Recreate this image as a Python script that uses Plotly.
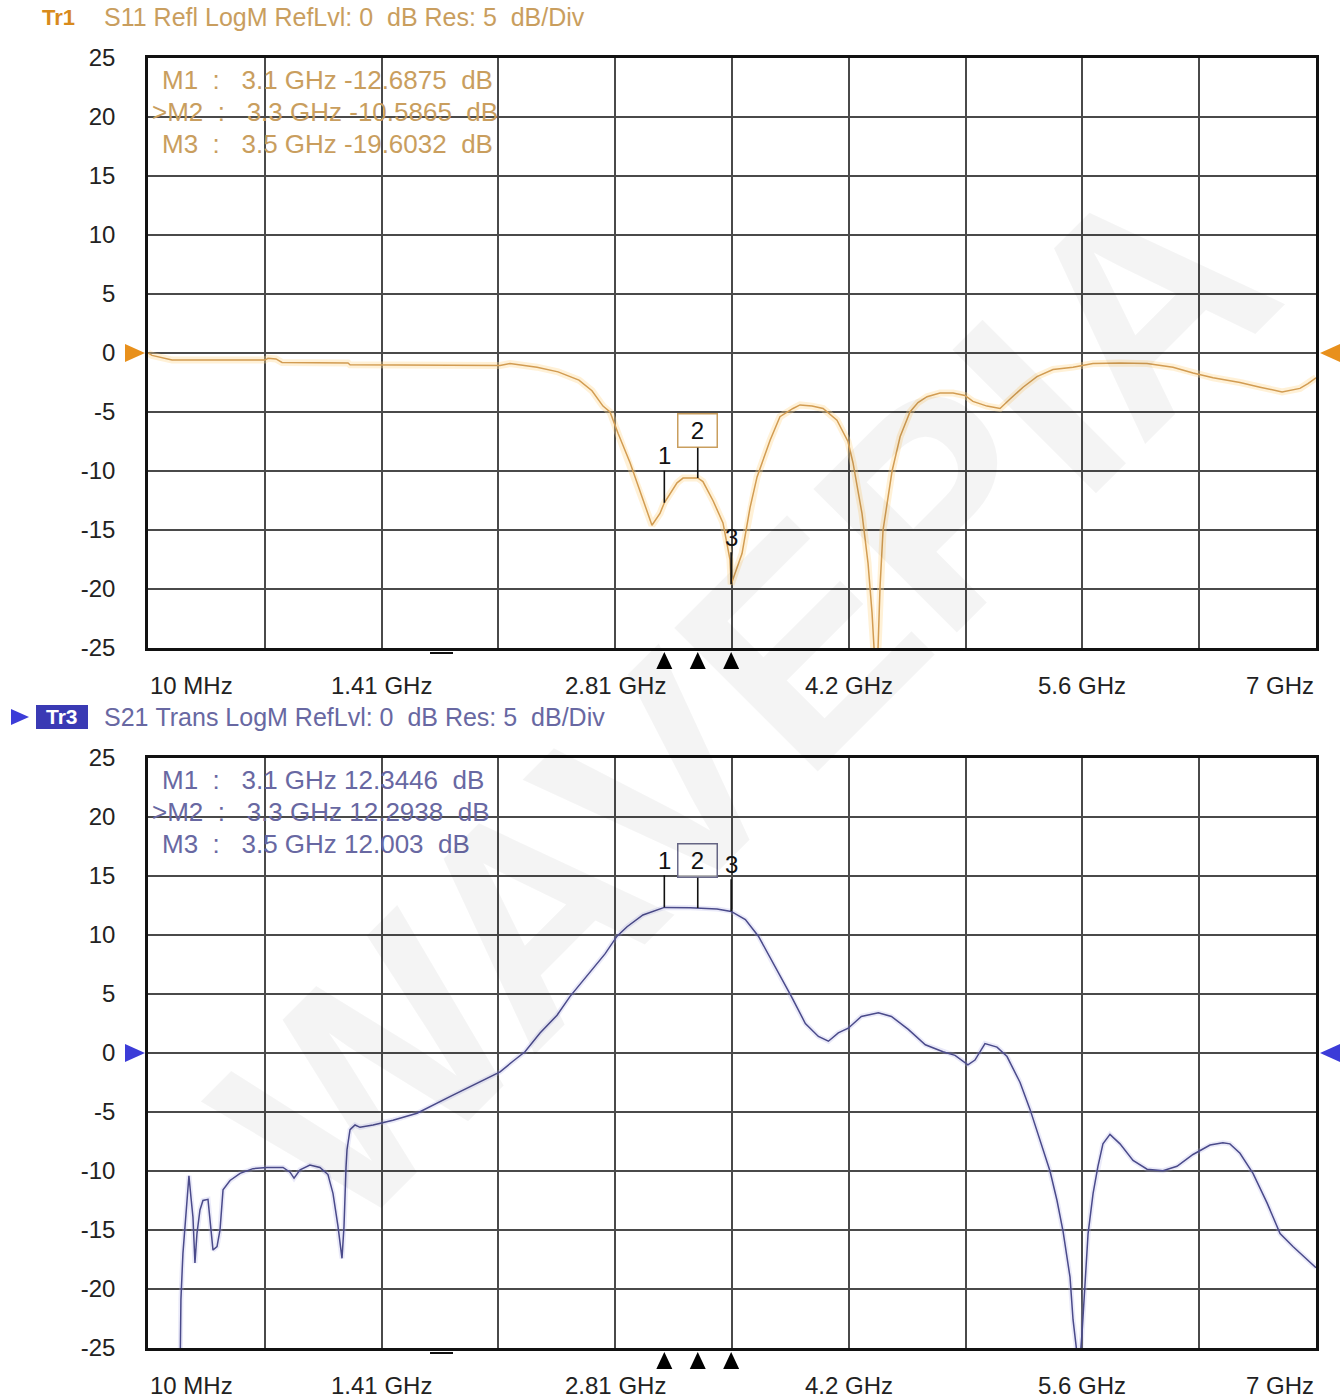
import plotly.graph_objects as go

# ---------------- data ----------------
s11_freq_ghz = [0.010, 0.034, 0.154, 0.710, 0.728, 0.776, 0.812, 1.207, 1.219, 2.045,
                2.117, 2.176, 2.338, 2.464, 2.589, 2.667, 2.733, 2.775, 2.823, 2.895,
                2.972, 3.026, 3.074, 3.100, 3.176, 3.212, 3.300, 3.331, 3.391, 3.451,
                3.493, 3.500, 3.565, 3.613, 3.655, 3.733, 3.792, 3.870, 3.912, 3.984,
                4.050, 4.133, 4.199, 4.229, 4.283, 4.319, 4.343, 4.355, 4.367, 4.379,
                4.391, 4.409, 4.463, 4.511, 4.570, 4.618, 4.672, 4.750, 4.828, 4.899,
                4.947, 5.031, 5.109, 5.169, 5.247, 5.330, 5.426, 5.546, 5.665, 5.827,
                5.989, 6.144, 6.264, 6.384, 6.545, 6.665, 6.797, 6.904, 6.952, 7.000]
s11_db = [0.0, -0.2, -0.6, -0.6, -0.45, -0.5, -0.8, -0.85, -1.0, -1.0,
          -1.05, -0.9, -1.2, -1.6, -2.3, -3.2, -4.5, -5.0, -6.8, -9.3,
          -12.5, -14.6, -13.6, -12.69, -11.0, -10.6, -10.59, -10.9, -12.5, -14.4,
          -17.5, -19.6, -17.0, -13.1, -10.5, -7.4, -5.4, -4.7, -4.4, -4.5,
          -4.7, -5.7, -7.5, -9.3, -13.6, -17.8, -22.0, -26.0, -28.0, -25.0,
          -19.8, -15.0, -10.0, -7.1, -5.0, -4.2, -3.7, -3.4, -3.4, -3.6,
          -4.1, -4.5, -4.7, -3.9, -2.9, -2.0, -1.4, -1.2, -0.9, -0.85,
          -0.9, -1.2, -1.7, -2.1, -2.5, -2.9, -3.3, -3.0, -2.6, -2.1]

s21_freq_ghz = [0.196, 0.207, 0.219, 0.231, 0.243, 0.255, 0.267, 0.279, 0.291, 0.303,
                0.321, 0.339, 0.369, 0.381, 0.399, 0.423, 0.441, 0.459, 0.501, 0.561,
                0.638, 0.722, 0.818, 0.860, 0.884, 0.920, 0.979, 1.039, 1.087, 1.117,
                1.147, 1.171, 1.183, 1.195, 1.201, 1.219, 1.249, 1.279, 1.357, 1.476,
                1.620, 1.817, 1.979, 2.117, 2.194, 2.266, 2.356, 2.458, 2.536, 2.637,
                2.745, 2.817, 2.877, 2.972, 3.100, 3.256, 3.300, 3.415, 3.500, 3.585,
                3.663, 3.764, 3.860, 3.944, 4.022, 4.082, 4.141, 4.201, 4.279, 4.381,
                4.459, 4.560, 4.662, 4.768, 4.840, 4.917, 4.959, 5.019, 5.091, 5.151,
                5.229, 5.289, 5.348, 5.408, 5.450, 5.486, 5.528, 5.546, 5.570, 5.582,
                5.600, 5.618, 5.636, 5.666, 5.695, 5.725, 5.767, 5.827, 5.905, 5.989,
                6.084, 6.168, 6.264, 6.366, 6.443, 6.485, 6.545, 6.623, 6.707, 6.785,
                6.862, 7.000]
s21_db = [-35.0, -20.9, -17.0, -14.6, -12.5, -10.4, -12.2, -13.9, -17.8, -15.3,
          -13.3, -12.5, -12.4, -14.2, -16.7, -16.4, -15.0, -11.6, -10.8, -10.2,
          -9.8, -9.7, -9.7, -10.1, -10.6, -9.9, -9.5, -9.7, -10.3, -11.9,
          -14.7, -17.4, -14.7, -9.7, -8.2, -6.5, -6.1, -6.3, -6.1, -5.7,
          -5.1, -3.7, -2.6, -1.6, -0.7, 0.1, 1.7, 3.2, 4.8, 6.5,
          8.4, 9.9, 10.7, 11.7, 12.34, 12.3, 12.29, 12.2, 12.0, 11.3,
          9.9, 7.3, 4.8, 2.5, 1.4, 1.0, 1.7, 2.1, 3.1, 3.4,
          3.1, 2.0, 0.7, 0.1, -0.2, -1.0, -0.6, 0.8, 0.5, -0.3,
          -2.5, -4.8, -7.3, -10.0, -12.5, -15.1, -19.0, -22.6, -25.5, -27.0,
          -23.7, -19.3, -15.3, -11.9, -9.6, -7.7, -6.9, -7.7, -9.1, -9.85,
          -9.97, -9.6, -8.6, -7.8, -7.6, -7.7, -8.5, -10.2, -12.7, -15.3,
          -16.4, -18.2]

marker_freq_ghz = [3.1, 3.3, 3.5]
s11_marker_db = [-12.6875, -10.5865, -19.6032]
s21_marker_db = [12.3446, 12.2938, 12.003]

y_tick_vals = [25, 20, 15, 10, 5, 0, -5, -10, -15, -20, -25]
y_tick_text = [str(v) for v in y_tick_vals]
x_tick_vals = [0.01, 1.408, 2.806, 4.204, 5.602, 7.0]
x_tick_text = ["10 MHz", "1.41 GHz", "2.81 GHz", "4.2 GHz", "5.6 GHz", "7 GHz"]

header_top = "S11 Refl LogM RefLvl: 0  dB Res: 5  dB/Div"
header_bot = "S21 Trans LogM RefLvl: 0  dB Res: 5  dB/Div"

# ---------------- layout helpers ----------------
W, H = 1342, 1398
L, R, T, B = 148, 26, 58, 50
FONT = "Liberation Sans, Arial, sans-serif"
NB = "\u00a0"


def px(x):
    return (x - L) / (W - L - R)


def py(y):
    return (H - B - y) / (H - T - B)


def nb(s):
    return s.replace(" ", NB)


S11_COL = "#D29C52"
S11_TXT = "#C99E5E"
S21_COL = "#4A4A8A"
S21_TXT = "#6868A2"
GRID = "#4a4a4a"

fig = go.Figure()

# halos + traces
fig.add_trace(go.Scatter(x=s11_freq_ghz, y=s11_db, mode="lines", xaxis="x", yaxis="y",
                         line=dict(color="rgba(255,214,140,0.35)", width=7), hoverinfo="skip"))
fig.add_trace(go.Scatter(x=s11_freq_ghz, y=s11_db, mode="lines", xaxis="x", yaxis="y",
                         line=dict(color=S11_COL, width=1.5)))
fig.add_trace(go.Scatter(x=s21_freq_ghz, y=s21_db, mode="lines", xaxis="x2", yaxis="y2",
                         line=dict(color="rgba(170,170,230,0.25)", width=5), hoverinfo="skip"))
fig.add_trace(go.Scatter(x=s21_freq_ghz, y=s21_db, mode="lines", xaxis="x2", yaxis="y2",
                         line=dict(color=S21_COL, width=1.5)))

axis_common = dict(range=[0.01, 7.0], tick0=0.01, dtick=0.699, showticklabels=False,
                   showgrid=True, gridcolor=GRID, gridwidth=1.5, zeroline=False,
                   showline=True, linecolor="#111", linewidth=2.5, mirror=True, ticks="")
yaxis_common = dict(range=[-25, 25], tickvals=y_tick_vals, ticktext=y_tick_text, showgrid=True,
                    gridcolor=GRID, gridwidth=1.5, zeroline=False, showline=True, linecolor="#111",
                    linewidth=2.5, mirror=True, ticks="", ticklabelstandoff=25,
                    tickfont=dict(family=FONT, size=24, color="#222"))

fig.update_layout(
    width=W, height=H,
    margin=dict(l=L, r=R, t=T, b=B),
    paper_bgcolor="white", plot_bgcolor="white",
    showlegend=False,
    xaxis=dict(domain=[0, 1], anchor="y", **axis_common),
    yaxis=dict(domain=[py(648), 1], anchor="x", **yaxis_common),
    xaxis2=dict(domain=[0, 1], anchor="y2", **axis_common),
    yaxis2=dict(domain=[0, py(758)], anchor="x2", **yaxis_common),
)

ann = []
shapes = []

# marker triangles below the axes (x in data, y in paper) and reference-level arrows
for xr, yr, axis_bottom_pix, col in (("x", "y", 648, "#E8901C"), ("x2", "y2", 1348, "#3C3CD8")):
    for f in marker_freq_ghz:
        shapes.append(dict(type="path", xref=xr, yref="paper", xsizemode="pixel", ysizemode="pixel",
                           xanchor=f, yanchor=py(axis_bottom_pix), path="M -8 -21 L 0 -4 L 8 -21 Z",
                           fillcolor="black", line=dict(width=0)))
    shapes.append(dict(type="path", xref="paper", yref=yr, xsizemode="pixel", ysizemode="pixel",
                       xanchor=0, yanchor=0, path="M -23 9 L -3 0 L -23 -9 Z",
                       fillcolor=col, line=dict(width=0)))
    shapes.append(dict(type="path", xref="paper", yref=yr, xsizemode="pixel", ysizemode="pixel",
                       xanchor=1, yanchor=0, path="M 24 9 L 4 0 L 24 -9 Z",
                       fillcolor=col, line=dict(width=0)))

# x tick labels
for xr, ypix in (("x", 685), ("x2", 1385)):
    for i, (v, t) in enumerate(zip(x_tick_vals, x_tick_text)):
        anchor = "left" if i == 0 else ("right" if i == len(x_tick_vals) - 1 else "center")
        ann.append(dict(x=v, xref=xr, y=py(ypix), yref="paper", text=t, showarrow=False,
                        xanchor=anchor, yanchor="middle",
                        font=dict(family=FONT, size=24, color="#222")))

# headers
ann.append(dict(x=px(40), y=py(17), xref="paper", yref="paper", text="<b>Tr1</b>", showarrow=False,
                xanchor="left", yanchor="middle", font=dict(family=FONT, size=22, color="#D88A1C")))
ann.append(dict(x=px(102), y=py(17), xref="paper", yref="paper", text=nb(header_top), showarrow=False,
                xanchor="left", yanchor="middle", font=dict(family=FONT, size=25, color=S11_TXT)))

shapes.append(dict(type="rect", xref="paper", yref="paper", x0=px(36), x1=px(88), y0=py(729), y1=py(705),
                   fillcolor="#3A3AB4", line=dict(width=0)))
shapes.append(dict(type="path", xref="paper", yref="paper",
                   path=f"M {px(11)} {py(709)} L {px(29)} {py(717)} L {px(11)} {py(725)} Z",
                   fillcolor="#3C3CD8", line=dict(width=0)))
ann.append(dict(x=px(62), y=py(717), xref="paper", yref="paper", text="<b>Tr3</b>", showarrow=False,
                xanchor="center", yanchor="middle", font=dict(family=FONT, size=21, color="white")))
ann.append(dict(x=px(102), y=py(717), xref="paper", yref="paper", text=nb(header_bot), showarrow=False,
                xanchor="left", yanchor="middle", font=dict(family=FONT, size=25, color=S21_TXT)))

# marker readouts
for base, vals, col in ((80, s11_marker_db, S11_TXT), (780, s21_marker_db, S21_TXT)):
    for i, (f, v) in enumerate(zip(marker_freq_ghz, vals)):
        prefix = ">" if i == 1 else ""
        xs = 150 if i == 1 else 160
        txt = nb(f"{prefix}M{i + 1}  :   {f} GHz {v}  dB")
        ann.append(dict(x=px(xs), y=py(base + 32 * i), xref="paper", yref="paper", text=txt,
                        showarrow=False, xanchor="left", yanchor="middle",
                        font=dict(family=FONT, size=26, color=col)))

# marker callouts
for xr, yr, vals, boxcol in (("x", "y", s11_marker_db, "#C99E5E"), ("x2", "y2", s21_marker_db, "#6a6a8a")):
    for i, (f, v) in enumerate(zip(marker_freq_ghz, vals)):
        a = dict(x=f, y=v, xref=xr, yref=yr, text=str(i + 1), showarrow=True, arrowhead=0,
                 arrowwidth=1.6, arrowcolor="#111", ax=0, ay=-47, standoff=0,
                 font=dict(family=FONT, size=24, color="#111"))
        if i == 1:
            a.update(bordercolor=boxcol, borderwidth=1.5, borderpad=2, width=34, height=28,
                     bgcolor="rgba(255,255,255,0.6)")
        ann.append(a)

# small scroll dashes below the axes
for ypix in (653, 1353):
    shapes.append(dict(type="line", xref="paper", yref="paper", x0=px(430), x1=px(453),
                       y0=py(ypix), y1=py(ypix), line=dict(color="#111", width=2)))

# watermark
ann.append(dict(x=px(745), y=py(700), xref="paper", yref="paper", text="<b>WAVEPIA</b>", showarrow=False,
                textangle=-45, xanchor="center", yanchor="middle",
                font=dict(family="Liberation Sans, Arial", size=295, color="rgba(0,0,0,0.045)")))

fig.update_layout(annotations=ann, shapes=shapes)

fig.write_html("out.html")
